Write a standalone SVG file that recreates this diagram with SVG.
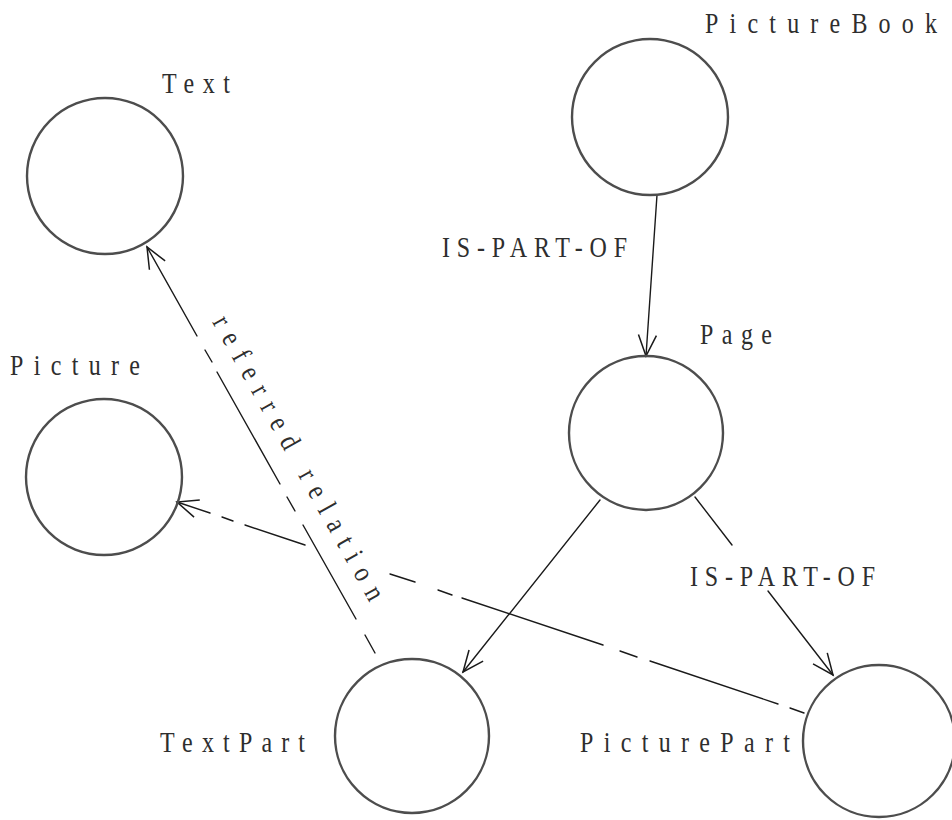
<svg xmlns="http://www.w3.org/2000/svg" width="952" height="820" viewBox="0 0 952 820">
  <defs>
    <style>
      .node { fill: none; stroke: #4d4d4d; stroke-width: 2.4; }
      .edge { fill: none; stroke: #1a1a1a; stroke-width: 1.4; stroke-linecap: round; }
      .lbl { font-family: "Liberation Serif", "Times New Roman", serif; font-size: 24px; fill: #2e2e2e; }
    </style>
    <marker id="arr" markerUnits="userSpaceOnUse" markerWidth="28" markerHeight="24" viewBox="-25 -12 28 24" refX="0" refY="0" orient="auto">
      <path d="M-21,-9 L0,0 L-21,9" fill="none" stroke="#1a1a1a" stroke-width="1.5"/>
    </marker>
  </defs>
  <rect width="952" height="820" fill="#ffffff"/>

  <!-- connectors -->
  <g id="connectors">
    <!-- PictureBook -> Page -->
    <line class="edge" x1="657" y1="195" x2="646" y2="356" marker-end="url(#arr)"/>
    <!-- Page -> TextPart -->
    <line class="edge" x1="600" y1="500" x2="463" y2="672" marker-end="url(#arr)"/>
    <!-- Page -> PicturePart, broken for its label -->
    <line class="edge" x1="695" y1="497" x2="732" y2="545"/>
    <line class="edge" x1="768" y1="591" x2="833" y2="675" marker-end="url(#arr)"/>
    <!-- TextPart -> Text : referred relation (dash-dot) -->
    <line class="edge" x1="197" y1="336" x2="147" y2="247" marker-end="url(#arr)"/>
    <path class="edge" d="M205,350 L212,362 M217,372 L280,484 M287,497 L295,511 M303,525 L356,619 M365,635 L375,653"/>
    <!-- PicturePart -> Picture (dash-dot) -->
    <line class="edge" x1="210" y1="513" x2="177" y2="502" marker-end="url(#arr)"/>
    <path class="edge" d="M222,517 L233,521 M245,525 L305,545 M390,574 L415,582 M438,590 L452,595 M462,598 L603,645 M620,651 L637,657 M650,661 L778,704 M790,708 L804,713"/>
  </g>

  <!-- edge labels -->
  <g id="edge-labels">
    <text class="lbl" transform="translate(442,257) scale(1,1.2)" textLength="185" lengthAdjust="spacing">IS-PART-OF</text>
    <text class="lbl" transform="translate(690,586) scale(1,1.2)" textLength="185" lengthAdjust="spacing">IS-PART-OF</text>
    <text class="lbl" transform="translate(212,322) rotate(60.7) scale(1,1.2)" textLength="322" lengthAdjust="spacing">referred relation</text>
  </g>

  <!-- nodes -->
  <g id="node-text">
    <circle class="node" cx="105" cy="176" r="78"/>
    <text class="lbl" transform="translate(162,93) scale(1,1.2)" textLength="68" lengthAdjust="spacing">Text</text>
  </g>
  <g id="node-picturebook">
    <circle class="node" cx="650" cy="117" r="78"/>
    <text class="lbl" transform="translate(705,33) scale(1,1.2)" textLength="232" lengthAdjust="spacing">PictureBook</text>
  </g>
  <g id="node-page">
    <circle class="node" cx="646" cy="433" r="77"/>
    <text class="lbl" transform="translate(700,344) scale(1,1.2)" textLength="72" lengthAdjust="spacing">Page</text>
  </g>
  <g id="node-picture">
    <circle class="node" cx="104" cy="477" r="78"/>
    <text class="lbl" transform="translate(10,375) scale(1,1.2)" textLength="130" lengthAdjust="spacing">Picture</text>
  </g>
  <g id="node-textpart">
    <circle class="node" cx="412" cy="736" r="77"/>
    <text class="lbl" transform="translate(160,752) scale(1,1.2)" textLength="145" lengthAdjust="spacing">TextPart</text>
  </g>
  <g id="node-picturepart">
    <circle class="node" cx="879" cy="741" r="76"/>
    <text class="lbl" transform="translate(580,752) scale(1,1.2)" textLength="210" lengthAdjust="spacing">PicturePart</text>
  </g>
</svg>
